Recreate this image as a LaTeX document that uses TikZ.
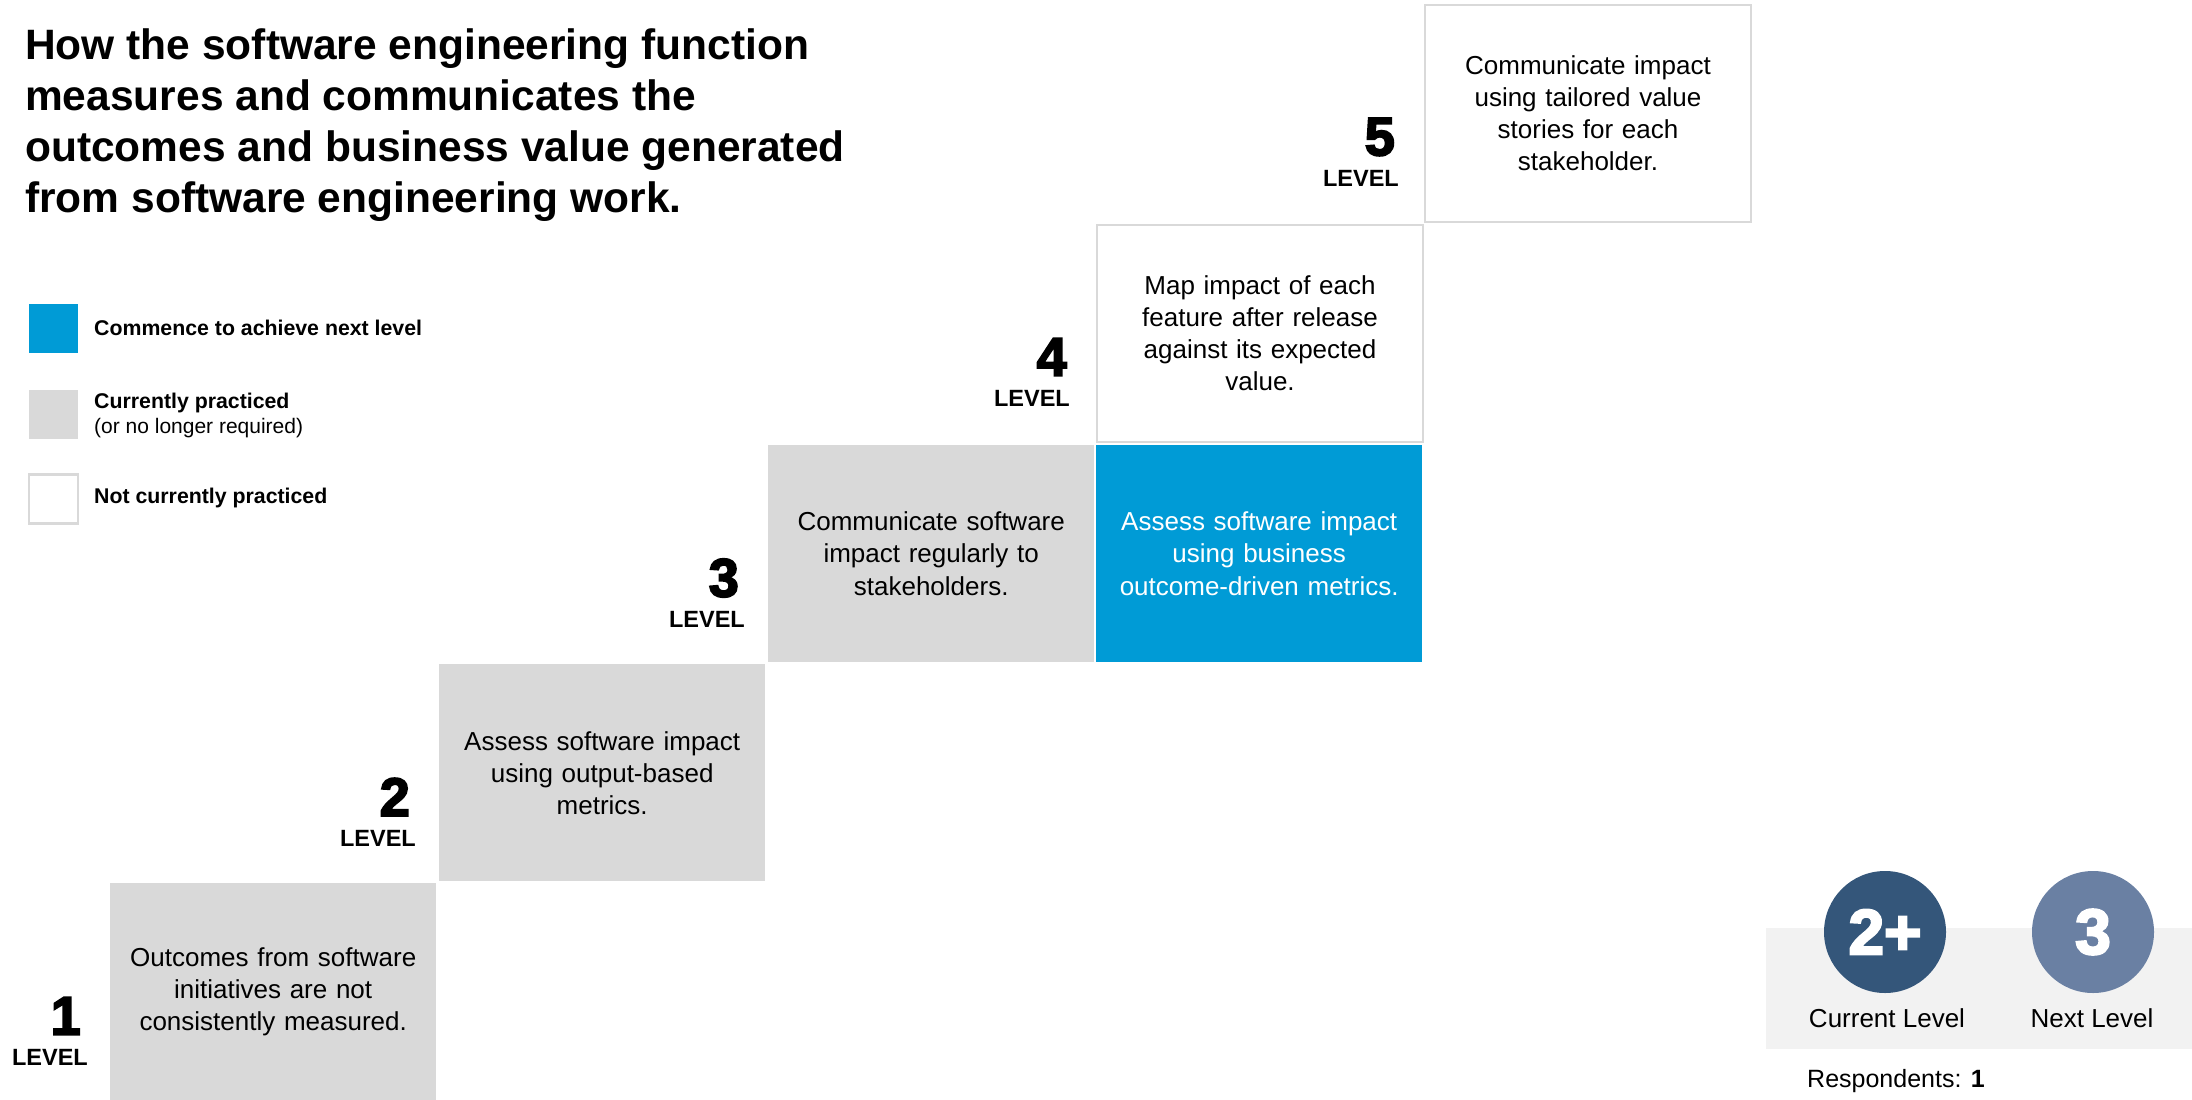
\documentclass[tikz,border=0pt]{standalone}
\usepackage{fontspec}
\setmainfont{Liberation Sans}
\newfontfamily\heavyfont{Liberation Sans}[BoldFeatures={FakeBold=3.5}]
\definecolor{boxgray}{HTML}{D9D9D9}
\definecolor{boxblue}{HTML}{009BD6}
\definecolor{panelgray}{HTML}{F2F2F2}
\definecolor{curblue}{HTML}{34567A}
\definecolor{nextblue}{HTML}{6A80A3}
\newcommand\bxfont{\fontsize{26}{32}\selectfont}
\tikzset{
  stepbox/.style={anchor=north west, minimum width=326pt, minimum height=217pt,
    inner sep=0pt, align=center, text width=310pt, font=\bxfont},
  graybox/.style={stepbox, fill=boxgray},
  bluebox/.style={stepbox, fill=boxblue, text=white},
  whitebox/.style={stepbox, fill=white, draw=boxgray, line width=2pt},
  lvnum/.style={anchor=east, inner sep=0pt, font=\heavyfont\bfseries\fontsize{54}{54}\selectfont},
  lvword/.style={anchor=east, inner sep=0pt, font=\bfseries\fontsize{23.5}{23.5}\selectfont},
  legsq/.style={minimum size=49pt, inner sep=0pt},
  leglabel/.style={anchor=west, inner sep=0pt, font=\fontsize{21}{21}\selectfont},
  circ/.style={circle, minimum size=122pt, inner sep=0pt, text=white,
    font=\heavyfont\bfseries\fontsize{64}{64}\selectfont},
  circlabel/.style={inner sep=0pt, font=\fontsize{26}{26}\selectfont}
}
\begin{document}
\begin{tikzpicture}[x=1pt, y=-1pt]
\useasboundingbox (0,0) rectangle (2192,1100);
% title
\node[anchor=north west, inner sep=0pt, align=left,
  font=\bfseries\fontsize{42.5}{51}\selectfont] (title) at (25,29)
  {How the software engineering function\\
   measures and communicates the\\
   outcomes and business value generated\\
   from software engineering work.};
% legend
\node[legsq, fill=boxblue] (lgblue) at (53.5,328.5) {};
\node[legsq, fill=boxgray] (lggray) at (53.5,414.5) {};
\node[legsq, fill=white, draw=boxgray, line width=2.5pt] (lgwhite) at (53.5,499) {};
\node[leglabel, font=\bfseries\fontsize{21.3}{21.3}\selectfont] (lt1) at (94,328) {Commence to achieve next level};
\node[leglabel, font=\bfseries\fontsize{21.3}{21.3}\selectfont] (lt2) at (94,403) {Currently practiced};
\node[leglabel, font=\fontsize{21}{21}\selectfont] (lt2b) at (94,428) {(or no longer required)};
\node[leglabel, font=\bfseries\fontsize{21.3}{21.3}\selectfont] (lt3) at (94,498) {Not currently practiced};
% steps
\node[graybox] (b1) at (110,883) {Outcomes from software\\initiatives are not\\consistently measured.};
\node[graybox] (b2) at (439,664) {Assess software impact\\using output-based\\metrics.};
\node[graybox] (b3) at (768,445) {Communicate software\\impact regularly to\\stakeholders.};
\node[bluebox] (b3b) at (1096,445) {Assess software impact\\using business\\outcome-driven metrics.};
\node[whitebox] (b4) at (1096,224) {Map impact of each\\feature after release\\against its expected\\value.};
\node[whitebox] (b5) at (1424,4) {Communicate impact\\using tailored value\\stories for each\\stakeholder.};
% level labels
\node[lvnum] (n1) at (81,1016) {1};
\node[lvword] (w1) at (88,1057) {LEVEL};
\node[lvnum] (n2) at (410,797) {2};
\node[lvword] (w2) at (416,838) {LEVEL};
\node[lvnum] (n3) at (739,578) {3};
\node[lvword] (w3) at (745,619) {LEVEL};
\node[lvnum] (n4) at (1067,357) {4};
\node[lvword] (w4) at (1070,398) {LEVEL};
\node[lvnum] (n5) at (1395,137) {5};
\node[lvword] (w5) at (1399,178) {LEVEL};
% summary panel
\fill[panelgray] (1766,928) rectangle (2192,1049);
\node[circ, fill=curblue] (cur) at (1885,932) {2+};
\node[circ, fill=nextblue] (nxt) at (2093,932) {3};
\node[circlabel] (curl) at (1887,1018) {Current Level};
\node[circlabel] (nxtl) at (2092,1018) {Next Level};
\node[anchor=west, inner sep=0pt, font=\fontsize{25}{25}\selectfont] (resp) at (1807,1081) {Respondents: \textbf{1}};
\end{tikzpicture}
\end{document}
